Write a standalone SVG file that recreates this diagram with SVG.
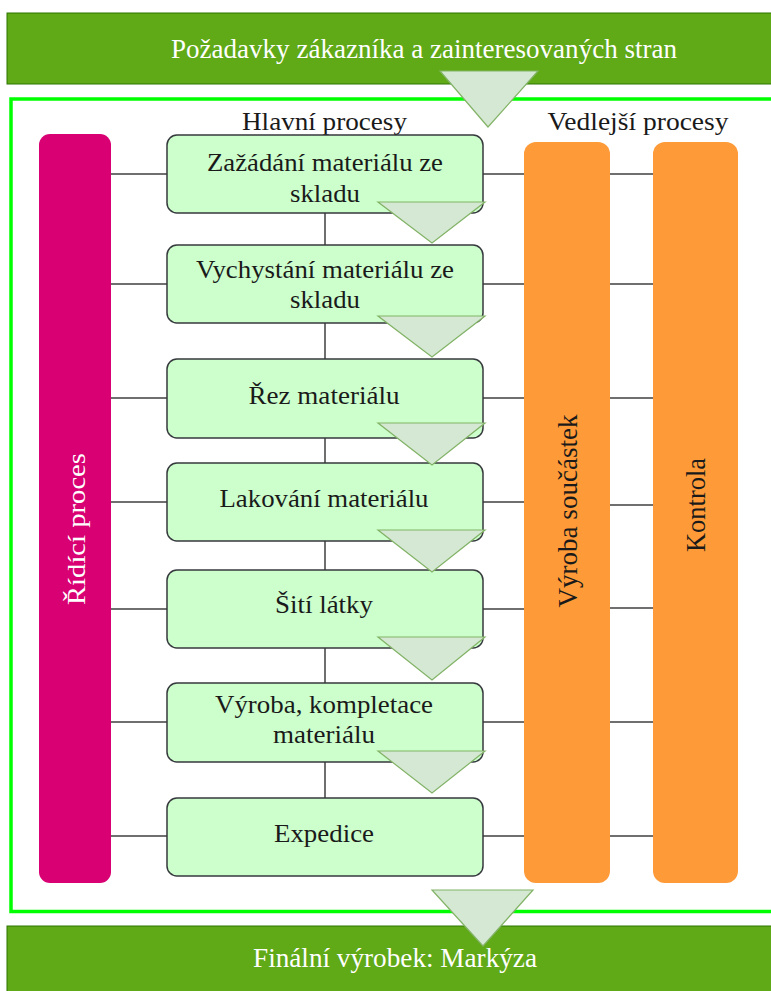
<svg xmlns="http://www.w3.org/2000/svg" width="771" height="991" viewBox="0 0 771 991">
  <style>
    .band { fill: #60a917; stroke: #2d7600; stroke-width: 1; }
    .band-text { font-family: "Liberation Serif", "Times New Roman", serif; font-size: 26.5px; fill: #ffffff; text-anchor: middle; }
    .frame { fill: #ffffff; stroke: #00ff00; stroke-width: 3.5; }
    .heading { font-family: "Liberation Serif", "Times New Roman", serif; font-size: 26px; fill: #1a1a1a; text-anchor: middle; }
    .step { fill: #ccffcc; stroke: #36393d; stroke-width: 1.5; }
    .step-text { font-family: "Liberation Serif", "Times New Roman", serif; font-size: 26px; fill: #1a1a1a; text-anchor: middle; }
    .control { fill: #d80073; }
    .support { fill: #fe9a37; }
    .vert-white { font-family: "Liberation Serif", "Times New Roman", serif; font-size: 26px; fill: #ffffff; text-anchor: middle; }
    .vert-dark { font-family: "Liberation Serif", "Times New Roman", serif; font-size: 27px; fill: #1a1a1a; text-anchor: middle; }
    .link { stroke: #404040; stroke-width: 1.5; fill: none; }
    .flow { fill: #d5e8d4; stroke: #82b366; stroke-width: 1.2; stroke-linejoin: miter; }
  </style>

  <rect width="771" height="991" fill="#ffffff"/>

  <!-- input band -->
  <g id="requirements">
    <rect class="band" x="7" y="13" width="800" height="71"/>
    <text class="band-text" x="424" y="58" textLength="506" lengthAdjust="spacingAndGlyphs">Požadavky zákazníka a zainteresovaných stran</text>
  </g>

  <!-- output band -->
  <g id="final-product">
    <rect class="band" x="7" y="926" width="800" height="80"/>
    <text class="band-text" x="395" y="967" textLength="284" lengthAdjust="spacingAndGlyphs">Finální výrobek: Markýza</text>
  </g>

  <!-- process frame -->
  <g id="process-frame">
    <rect class="frame" x="11" y="99" width="800" height="812.5"/>
    <text class="heading" x="324.5" y="130" textLength="165" lengthAdjust="spacingAndGlyphs">Hlavní procesy</text>
    <text class="heading" x="638" y="130" textLength="181" lengthAdjust="spacingAndGlyphs">Vedlejší procesy</text>
  </g>

  <!-- connectors -->
  <g id="connectors">
    <!-- control bar to steps -->
    <path class="link" d="M111 174H167 M111 284H167 M111 398H167 M111 502H167 M111 609H167 M111 722H167 M111 836H167"/>
    <!-- steps to production bar -->
    <path class="link" d="M483 174H524 M483 284H524 M483 398H524 M483 502H524 M483 609H524 M483 722H524 M483 836H524"/>
    <!-- production bar to inspection bar -->
    <path class="link" d="M610 174H653 M610 284H653 M610 398H653 M610 505H653 M610 608H653 M610 722H653 M610 836H653"/>
    <!-- step to step -->
    <path class="link" d="M325 213V245 M325 323V359 M325 438V463 M325 541V570 M325 648V683 M325 762V798"/>
  </g>

  <g id="control-process">
    <rect class="control" x="39" y="134" width="72" height="749" rx="11"/>
    <text class="vert-white" transform="translate(85 529) rotate(-90)" textLength="152" lengthAdjust="spacingAndGlyphs">Řídící proces</text>
  </g>

  <g id="part-production">
    <rect class="support" x="524" y="142" width="86" height="741" rx="12"/>
    <text class="vert-dark" transform="translate(577 511) rotate(-90)" textLength="193" lengthAdjust="spacingAndGlyphs">Výroba součástek</text>
  </g>

  <g id="inspection">
    <rect class="support" x="653" y="142" width="85" height="741" rx="12"/>
    <text class="vert-dark" transform="translate(705 505) rotate(-90)" textLength="94" lengthAdjust="spacingAndGlyphs">Kontrola</text>
  </g>

  <g id="step-request">
    <rect class="step" x="167" y="135" width="316" height="78" rx="10"/>
    <text class="step-text" x="325" y="171" textLength="236" lengthAdjust="spacingAndGlyphs">Zažádání materiálu ze</text>
    <text class="step-text" x="325" y="202" textLength="70" lengthAdjust="spacingAndGlyphs">skladu</text>
  </g>

  <g id="step-picking">
    <rect class="step" x="167" y="245" width="316" height="78" rx="10"/>
    <text class="step-text" x="325" y="278" textLength="258" lengthAdjust="spacingAndGlyphs">Vychystání materiálu ze</text>
    <text class="step-text" x="325" y="308" textLength="70" lengthAdjust="spacingAndGlyphs">skladu</text>
  </g>

  <g id="step-cutting">
    <rect class="step" x="167" y="359" width="316" height="79" rx="10"/>
    <text class="step-text" x="324" y="404" textLength="151" lengthAdjust="spacingAndGlyphs">Řez materiálu</text>
  </g>

  <g id="step-coating">
    <rect class="step" x="167" y="463" width="316" height="78" rx="10"/>
    <text class="step-text" x="324" y="507" textLength="209" lengthAdjust="spacingAndGlyphs">Lakování materiálu</text>
  </g>

  <g id="step-sewing">
    <rect class="step" x="167" y="570" width="316" height="78" rx="10"/>
    <text class="step-text" x="324" y="613" textLength="98" lengthAdjust="spacingAndGlyphs">Šití látky</text>
  </g>

  <g id="step-assembly">
    <rect class="step" x="167" y="683" width="316" height="79" rx="10"/>
    <text class="step-text" x="324" y="713" textLength="218" lengthAdjust="spacingAndGlyphs">Výroba, kompletace</text>
    <text class="step-text" x="324" y="743" textLength="102" lengthAdjust="spacingAndGlyphs">materiálu</text>
  </g>

  <g id="step-dispatch">
    <rect class="step" x="167" y="798" width="316" height="78" rx="10"/>
    <text class="step-text" x="324" y="842" textLength="100" lengthAdjust="spacingAndGlyphs">Expedice</text>
  </g>

  <!-- flow arrows -->
  <g id="flow-arrows">
    <polygon class="flow" points="440,71 538,71 488,127"/>
    <polygon class="flow" points="378,202 485,202 432,243"/>
    <polygon class="flow" points="378,316 485,316 432,357"/>
    <polygon class="flow" points="378,423 485,423 432,465"/>
    <polygon class="flow" points="378,530 485,530 432,572"/>
    <polygon class="flow" points="378,637 485,637 432,680"/>
    <polygon class="flow" points="378,751 485,751 432,793"/>
    <polygon class="flow" points="432,890 533,890 483,946"/>
  </g>
</svg>
